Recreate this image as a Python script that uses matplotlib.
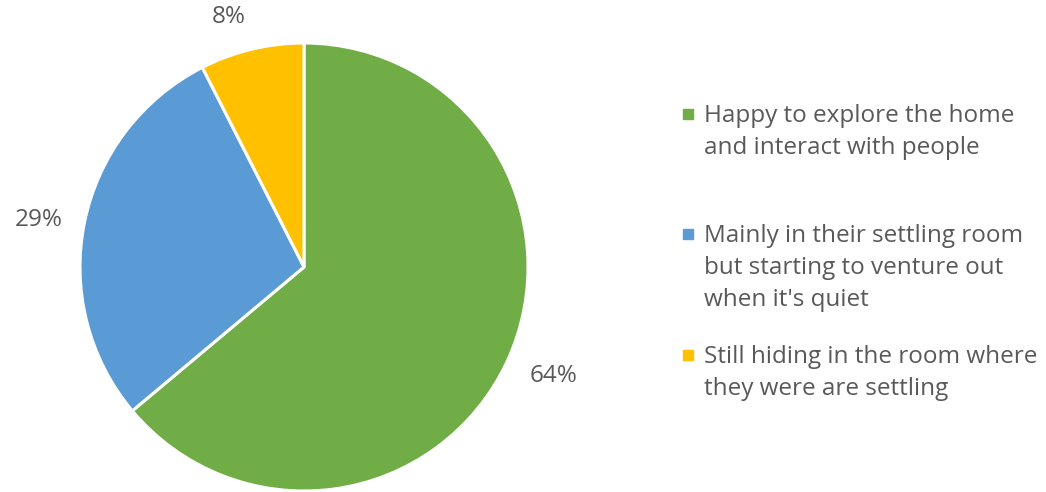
import matplotlib
matplotlib.use("Agg")
import matplotlib.pyplot as plt
from matplotlib.patches import Rectangle

# данные
categories = [
    "Happy to explore the home\nand interact with people",
    "Mainly in their settling room\nbut starting to venture out\nwhen it's quiet",
    "Still hiding in the room where\nthey were are settling",
]
shares = [63.9, 28.6, 7.5]
colors = ["#70AD47", "#5B9BD5", "#FFC000"]

W, H = 1046, 492
TEXT = "#595959"
FONT = "Open Sans"
FS = 17.5

fig = plt.figure(figsize=(W / 100, H / 100), dpi=100)

# пирог: центр (304, 267), радиус 224 px
cx, cy, r = 304, 267, 224
ax = fig.add_axes([(cx - r) / W, (H - cy - r) / H, 2 * r / W, 2 * r / H])
wedges, texts, autotexts = ax.pie(
    shares, colors=colors, startangle=90, counterclock=False,
    autopct=lambda p: f"{p:.0f}%", pctdistance=1.2,
    wedgeprops=dict(edgecolor="white", linewidth=2.2),
    textprops=dict(color=TEXT, fontsize=FS, family=FONT),
)
# подписи как в Excel (best fit)
label_pos = [(1.112, -0.487), (-1.183, 0.21), (-0.337, 1.114)]
for t, p in zip(autotexts, label_pos):
    t.set_position(p)
ax.set_xlim(-1, 1)
ax.set_ylim(-1, 1)
ax.axis("off")

# легенда вручную (маркер у первой строки), базовые линии в px
legend_base = [122, 242, 363]
line_step = 32
for lab, col, yb in zip(categories, colors, legend_base):
    fig.patches.append(Rectangle((683 / W, (H - yb + 3) / H), 10 / W, 10 / H,
                                 transform=fig.transFigure, color=col))
    for k, line in enumerate(lab.split("\n")):
        fig.text(704 / W, (H - yb - k * line_step) / H, line, color=TEXT,
                 fontsize=FS, family=FONT, va="baseline")

fig.savefig("out.png", dpi=100)
